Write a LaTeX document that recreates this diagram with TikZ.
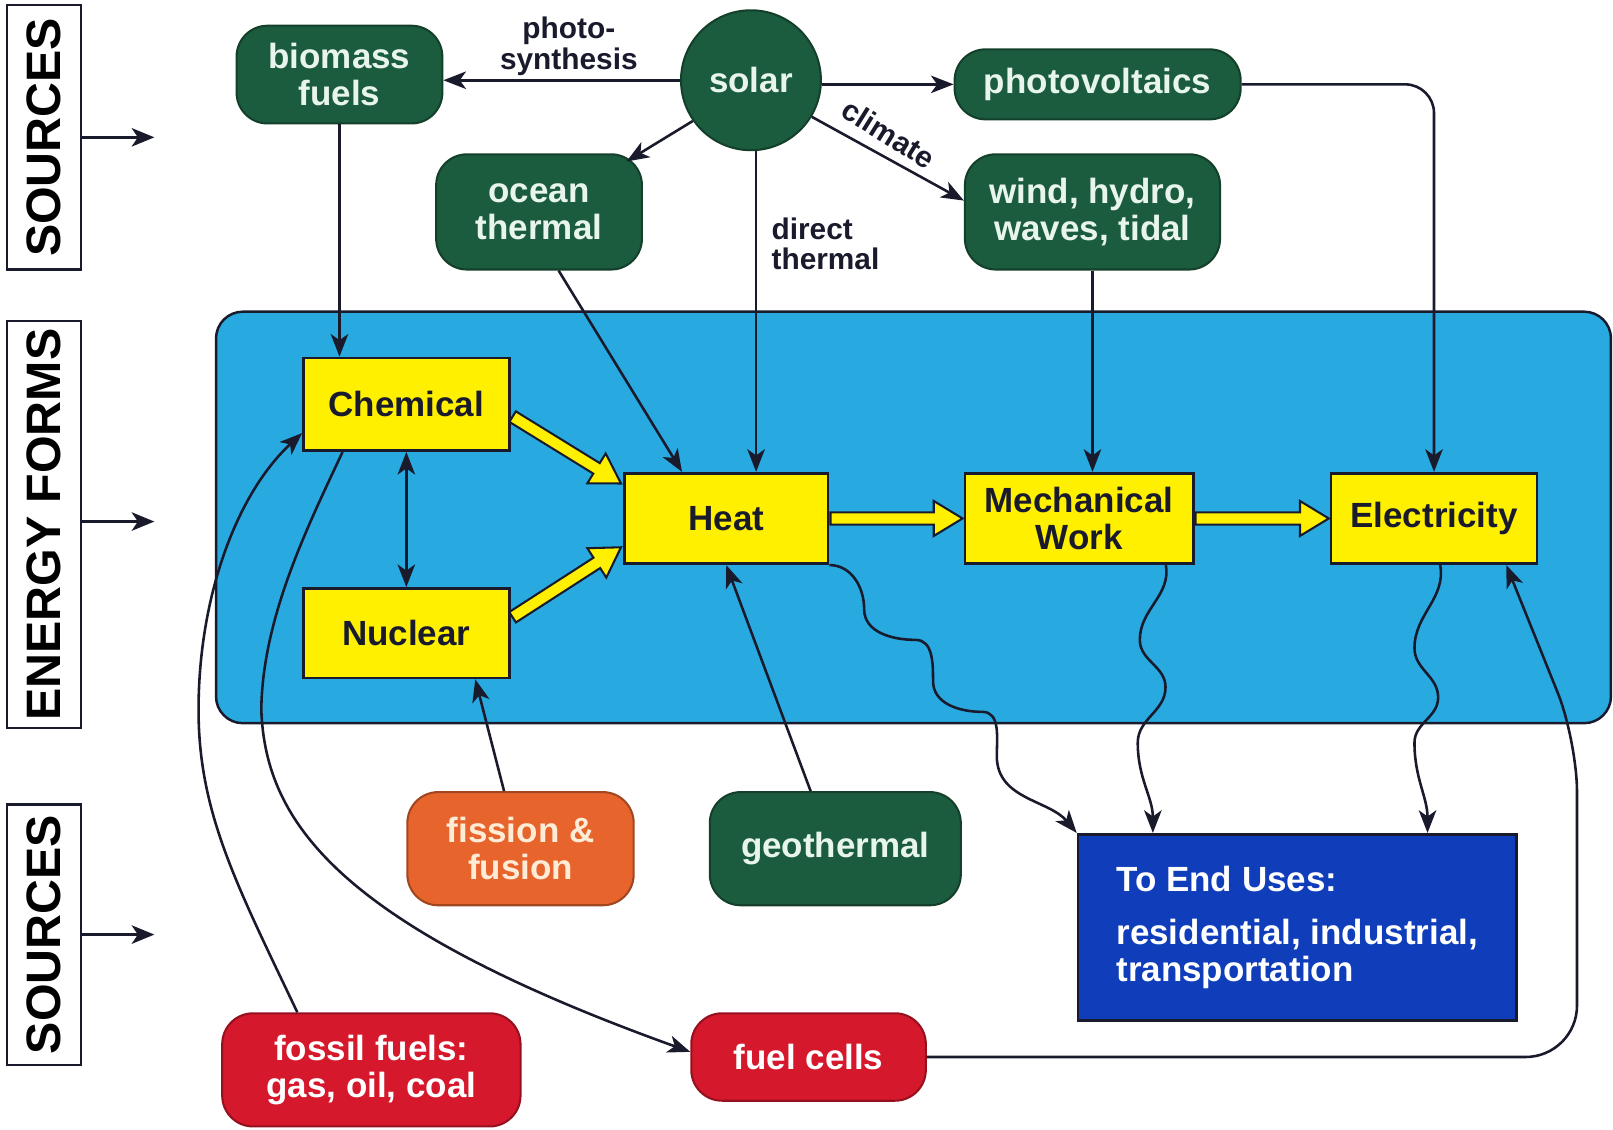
\documentclass[tikz,border=0pt]{standalone}
\usepackage{fontspec}
\setmainfont{Liberation Sans}
\usetikzlibrary{arrows.meta,calc}
\definecolor{gr}{RGB}{28,92,62}
\definecolor{mint}{RGB}{232,245,236}
\definecolor{org}{RGB}{232,100,45}
\definecolor{cream}{RGB}{255,236,215}
\definecolor{rd}{RGB}{214,24,44}
\definecolor{pan}{RGB}{40,170,224}
\definecolor{yel}{RGB}{255,240,0}
\definecolor{eblue}{RGB}{16,62,186}
\definecolor{dk}{RGB}{25,27,45}
\newcommand\fatarrow[2]{%
  \coordinate (fac) at ($(#2)!14pt!(#1)$);
  \filldraw[fill=yel, draw=dk, line width=1pt, line join=miter]
    ($(#1)!3pt!90:(#2)$) -- ($(fac)!3pt!90:(#2)$) -- ($(fac)!8.5pt!90:(#2)$) -- (#2)
    -- ($(fac)!8.5pt!-90:(#2)$) -- ($(fac)!3pt!-90:(#2)$) -- ($(#1)!3pt!-90:(#2)$) -- cycle;
}
\begin{document}
\begin{tikzpicture}[x=0.5pt,y=0.5pt,
  font=\bfseries\fontsize{17}{18}\selectfont,
  gbox/.style={draw=gr!70!black, fill=gr, rounded corners=15pt, text=mint, align=center, inner sep=0pt, line width=1pt},
  ybox/.style={draw=dk, fill=yel, text=dk, line width=1.3pt, align=center, inner sep=0pt},
  conn/.style={draw=dk, line width=1.25pt, -{Stealth[length=11pt,width=8.5pt,inset=3pt]}},
  lbl/.style={font=\bfseries\fontsize{14.5}{15}\selectfont, text=dk},
  side/.style={draw=dk, line width=1.1pt, rotate=90, inner sep=0pt, font=\bfseries\fontsize{23.5}{23.5}\selectfont},
  sarrow/.style={draw=dk, line width=1.2pt, -{Stealth[length=11pt,width=9pt,inset=3pt]}}]
\useasboundingbox (0,0) rectangle (1568,-1098);

% side labels
\node[side, minimum width=128.5pt, minimum height=36pt] (s1) at (43,-133.5) {SOURCES};
\node[side, minimum width=198pt, minimum height=36pt] (s2) at (43,-510) {ENERGY FORMS};
\node[side, minimum width=126.5pt, minimum height=36pt] (s3) at (43,-908.5) {SOURCES};
\coordinate (t1) at (150,-133);
\coordinate (t2) at (150,-507);
\coordinate (t3) at (150,-908);
\draw[sarrow] (s1.south) -- (s1.south -| t1);
\draw[sarrow] (s2.south |- t2) -- (t2);
\draw[sarrow] (s3.south) -- (s3.south -| t3);

% panel
\node[draw=dk, fill=pan, rounded corners=13pt, line width=1.2pt, minimum width=678pt, minimum height=200pt] (panel) at (888,-503) {};

% top sources
\node[gbox, minimum width=100pt, minimum height=47.5pt] (bio) at (330,-72.5) {biomass\\fuels};
\node[circle, fill=gr, draw=gr!70!black, line width=1pt, minimum size=68pt, inner sep=0pt, text=mint] (solar) at (730,-78) {solar};
\node[gbox, minimum width=139pt, minimum height=34pt] (pv) at (1067,-82) {photovoltaics};
\node[gbox, minimum width=100pt, minimum height=56pt] (ocean) at (524,-206) {ocean\\thermal};
\node[gbox, minimum width=124pt, minimum height=56pt] (wind) at (1062,-206) {wind, hydro,\\waves, tidal};

% energy forms
\node[ybox, minimum width=100pt, minimum height=45pt] (chem) at (395,-393) {Chemical};
\node[ybox, minimum width=100pt, minimum height=43.5pt] (nuc) at (395,-615.5) {Nuclear};
\node[ybox, minimum width=99pt, minimum height=44pt] (heat) at (706,-504) {Heat};
\node[ybox, minimum width=111pt, minimum height=44pt] (mech) at (1049,-504) {Mechanical\\Work};
\node[ybox, minimum width=100pt, minimum height=44pt] (elec) at (1394,-504) {Electricity};

% bottom sources
\node[gbox, fill=org, draw=org!70!black, text=cream, minimum width=110pt, minimum height=55pt] (fis) at (506,-825) {fission \&\\fusion};
\node[gbox, minimum width=122pt, minimum height=55pt] (geo) at (812,-825) {geothermal};
\node[gbox, fill=rd, draw=rd!70!black, text=white, minimum width=145pt, minimum height=55pt] (fossil) at (361,-1040) {fossil fuels:\\gas, oil, coal};
\node[gbox, fill=rd, draw=rd!70!black, text=white, minimum width=114pt, minimum height=42.5pt] (fuel) at (786,-1027.5) {fuel cells};
\node[draw=dk, fill=eblue, text=white, minimum width=213pt, minimum height=90.5pt, align=left, line width=1.3pt] (end) at (1261,-901.5) {To End Uses:\\[8pt]residential, industrial,\\transportation};

% labels
\node[lbl, align=center] (ps) at (553,-45) {photo-\\synthesis};
\node[lbl, rotate=-32, inner sep=0pt] (cl) at (864,-130) {climate};
\node[lbl, align=left, anchor=west] (dt) at (743,-237) {direct\\thermal};

% connectors from solar
\draw[conn] (solar.west) -- (solar.west -| bio.east);
\draw[conn] (solar.east |- pv.west) -- (pv.west);
\draw[conn] (solar.215) -- ($(ocean.north east)+(-16,-8)$);
\draw[conn] (solar.-31) -- ($(wind.west)+(0,11)$);
\coordinate (st) at ($(solar.south)+(5,0)$);
\draw[conn] (st) -- (st |- heat.north);
\draw[conn] ($(ocean.south)+(19,0)$) -- ($(heat.north)+(-43,0)$);
\draw[conn] (bio.south) -- (bio.south |- chem.north);
\draw[conn] (wind.south) -- (wind.south |- mech.north);
\draw[conn, rounded corners=14pt] (pv.east) -| (elec.north);
\draw[conn, {Stealth[length=11pt,width=8.5pt,inset=3pt]}-{Stealth[length=11pt,width=8.5pt,inset=3pt]}] (chem.south) -- (nuc.north);
\draw[conn] ($(fis.north)+(-16,0)$) -- ($(nuc.south)+(67,0)$);
\draw[conn] ($(geo.north)+(-24,0)$) -- (heat.south);

% long curves
\draw[conn] ($(fossil.north west)+(74,0)$) .. controls (230,-860) and (193,-790) .. (193,-690)
  .. controls (193,-580) and (230,-480) .. ($(chem.west)+(0,-28)$);
\draw[conn] ($(chem.south)+(-62,0)$) .. controls (300,-510) and (255,-600) .. (254,-690)
  .. controls (258,-800) and (330,-900) .. ($(fuel.west)+(0,5)$);
\draw[conn] (fuel.east) [rounded corners=25pt] -- (1533,-1027.5) -- (1533,-720) [sharp corners] -- ($(elec.south east)+(-31,0)$);

% wavy lines to end uses
\draw[conn] (heat.south east) to[out=0,in=90] (840,-592) to[out=-90,in=180] (890,-622)
  to[out=0,in=90] (907,-662) to[out=-90,in=180] (955,-692) to[out=0,in=90] (969,-735)
  to[out=-90,in=130] (end.north west);
\draw[conn] ($(mech.south east)+(-28,0)$) to[out=-80,in=90] (1108,-622) to[out=-90,in=90] (1133,-668)
  to[out=-90,in=90] (1106,-722) to[out=-90,in=90] ($(end.north west)+(74,0)$);
\draw[conn] ($(elec.south)+(6,0)$) to[out=-80,in=90] (1375,-630) to[out=-90,in=90] (1398,-678)
  to[out=-90,in=90] (1375,-722) to[out=-90,in=90] ($(end.north west)+(341,0)$);

% fat yellow arrows
\coordinate (c1s) at ($(chem.east)+(2,-12)$);
\coordinate (c1e) at ($(heat.west)+(-2,34)$);
\coordinate (n1s) at ($(nuc.east)+(2,15.5)$);
\coordinate (n1e) at ($(heat.west)+(-2,-28)$);
\coordinate (h1s) at ($(heat.east)+(1,0)$);
\coordinate (h1e) at ($(mech.west)+(-1,0)$);
\coordinate (m1s) at ($(mech.east)+(1,0)$);
\coordinate (m1e) at ($(elec.west)+(-1,0)$);
\fatarrow{c1s}{c1e}
\fatarrow{n1s}{n1e}
\fatarrow{h1s}{h1e}
\fatarrow{m1s}{m1e}
\end{tikzpicture}
\end{document}
